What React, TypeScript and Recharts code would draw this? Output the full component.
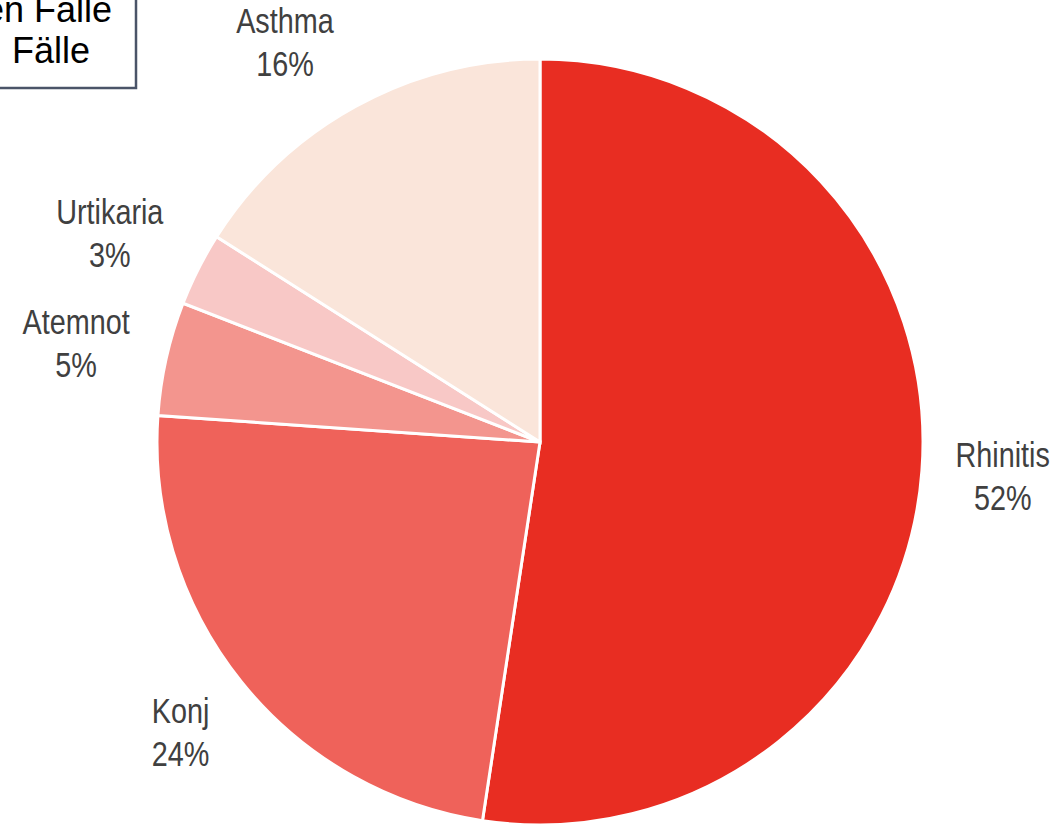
import React from "react";
import { PieChart, Pie, Cell } from "recharts";

const categories = ["Rhinitis", "Konj", "Atemnot", "Urtikaria", "Asthma"];
const values = [52.4, 23.7, 4.8, 3.1, 16.0];
const percentLabels = ["52%", "24%", "5%", "3%", "16%"];
const colors = ["#E82D22", "#EF625A", "#F3958E", "#F8C8C6", "#FAE5DA"];
const boxLines = ["Anteil an allen Fälle", "Fälle"];

const data = categories.map((name, i) => ({ name, value: values[i], pct: percentLabels[i] }));

// small manual label nudges (px), like hand-placed labels in the source
const labelNudge: Record<string, [number, number]> = {
  Rhinitis: [1, 1],
  Konj: [2, 3],
  Atemnot: [-12, 4],
  Urtikaria: [-17, 2],
  Asthma: [-32, 8],
};

const LABEL_FONT = "'Liberation Sans', Arial, sans-serif";

const renderLabel = (props: any) => {
  const { cx, cy, midAngle, outerRadius, index } = props;
  const RAD = Math.PI / 180;
  const r = outerRadius + 80;
  const d = data[index];
  const [nx, ny] = labelNudge[d.name] || [0, 0];
  const x = cx + r * Math.cos(-midAngle * RAD) + nx;
  const y = cy + r * Math.sin(-midAngle * RAD) + ny;
  return (
    <g transform={`translate(${x},${y}) scale(0.8,1)`}>
      <text x={0} y={-11} textAnchor="middle" fill="#404040" fontFamily={LABEL_FONT} fontSize={36}>
        {d.name}
      </text>
      <text x={0} y={32} textAnchor="middle" fill="#404040" fontFamily={LABEL_FONT} fontSize={36}>
        {d.pct}
      </text>
    </g>
  );
};

export default function App() {
  return (
    <div style={{ position: "absolute", left: 0, top: 0, width: 1057, height: 824, background: "#fff" }}>
      <PieChart width={1057} height={824} margin={{ top: 0, right: 0, bottom: 0, left: 0 }}>
        <Pie
          data={data}
          dataKey="value"
          nameKey="name"
          cx={540}
          cy={442}
          outerRadius={383}
          startAngle={90}
          endAngle={-270}
          stroke="#ffffff"
          strokeWidth={3}
          label={renderLabel}
          labelLine={false}
          isAnimationActive={false}
        >
          {data.map((d, i) => (
            <Cell key={d.name} fill={colors[i]} />
          ))}
        </Pie>
      </PieChart>
      <svg width={1057} height={824} style={{ position: "absolute", left: 0, top: 0, pointerEvents: "none" }}>
        <rect x={-60} y={-20} width={196} height={108} fill="#ffffff" stroke="#4A5468" strokeWidth={2.5} />
        <text x={112} y={22} textAnchor="end" fill="#000" fontFamily="'Liberation Sans', Arial, sans-serif" fontSize={36}>
          {boxLines[0]}
        </text>
        <text x={51} y={63} textAnchor="middle" fill="#000" fontFamily="'Liberation Sans', Arial, sans-serif" fontSize={36}>
          {boxLines[1]}
        </text>
      </svg>
    </div>
  );
}
